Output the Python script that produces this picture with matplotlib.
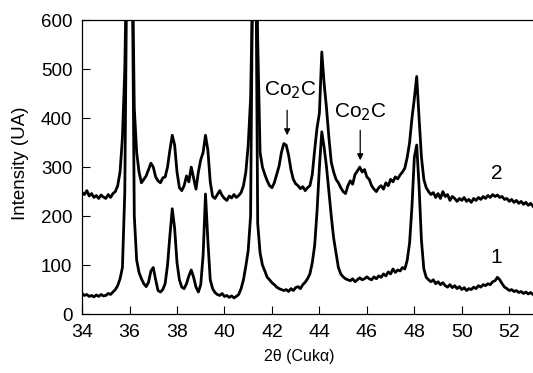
import numpy as np
import matplotlib
matplotlib.use("Agg")
import matplotlib.pyplot as plt

plt.rcParams['font.family'] = ['Liberation Sans', 'DejaVu Sans']

# 2-theta grid (deg), 0.1 step
two_theta = np.round(np.arange(34.0, 53.05, 0.1), 1)

# pattern 2 (upper)
intensity_2 = [
    248, 244, 252, 241, 246, 238, 242, 236, 243, 239,
    236, 244, 238, 246, 250, 262, 290, 360, 500, 800,
    1000, 800, 420, 330, 290, 268, 275, 282, 295, 308,
    300, 280, 272, 268, 278, 280, 300, 335, 365, 345,
    290, 258, 252, 262, 282, 270, 300, 278, 255, 290,
    315, 330, 365, 335, 270, 240, 236, 244, 252, 242,
    236, 232, 241, 237, 244, 238, 242, 248, 262, 290,
    345, 440, 700, 900, 560, 330, 300, 285, 272, 262,
    258, 268, 285, 302, 330, 348, 345, 325, 295, 275,
    266, 262, 256, 260, 252, 258, 262, 285, 335, 380,
    410, 535, 470, 420, 360, 310, 290, 275, 268, 258,
    250, 246, 262, 272, 265, 285, 292, 300, 290, 295,
    280, 275, 262, 255, 250, 258, 262, 255, 268, 262,
    275, 270, 280, 276, 284, 290, 298, 320, 350, 400,
    440, 485, 400, 320, 275, 258, 250, 244, 248, 238,
    246, 236, 250, 240, 244, 232, 240, 236, 230, 236,
    232, 238, 230, 234, 228, 236, 232, 238, 234, 240,
    236, 242, 238, 244, 240, 243, 238, 240, 234, 236,
    230, 234, 228, 232, 226, 230, 224, 228, 222, 226,
    220,
]

# pattern 1 (lower)
intensity_1 = [
    42, 38, 40, 36, 38, 35, 39, 36, 40, 37,
    38, 42, 40, 45, 50, 58, 72, 95, 250, 800,
    1000, 800, 200, 110, 85, 72, 62, 56, 65, 88,
    95, 70, 48, 45, 50, 62, 100, 160, 215, 175,
    105, 70, 55, 52, 62, 78, 90, 75, 55, 45,
    60, 120, 245, 150, 70, 52, 44, 40, 38, 42,
    36, 38, 34, 37, 33, 36, 40, 52, 70, 98,
    130, 200, 800, 900, 185, 125, 100, 88, 75, 70,
    64, 60, 55, 52, 50, 48, 50, 46, 52, 48,
    54, 56, 52, 60, 65, 72, 82, 105, 140, 210,
    300, 372, 340, 300, 250, 200, 155, 125, 95, 82,
    76, 72, 70, 68, 72, 66, 70, 74, 70, 72,
    76, 72, 70, 76, 72, 78, 75, 82, 78, 86,
    82, 92, 85, 90, 88, 95, 92, 110, 145, 220,
    320, 345, 260, 150, 92, 75, 70, 66, 70, 62,
    66, 60, 64, 58, 55, 60, 54, 58, 52, 56,
    50, 54, 48, 52, 50, 55, 52, 58, 55, 60,
    58, 62, 60, 66, 68, 75, 70, 62, 55, 52,
    48, 50, 46, 48, 44, 46, 42, 45, 41, 44,
    40,
]

# Co2C peak markers: arrow x, arrow start, arrow tip, label position
co2c_x = [42.64, 45.72]
co2c_start = [416, 375]
co2c_tip = [365, 314]
co2c_label_x = [42.78, 45.75]
co2c_label_y = [456, 413]

fig = plt.figure(figsize=(5.33, 3.73), dpi=100)
ax = fig.add_axes([0.154, 0.158, 0.846, 0.788])

ax.plot(two_theta, intensity_2, color="black", lw=2.0)
ax.plot(two_theta, intensity_1, color="black", lw=2.0)

ax.set_xlim(34, 53)
ax.set_ylim(0, 600)
ax.set_xticks(np.arange(34, 53, 2))
ax.set_yticks(np.arange(0, 601, 100))
ax.tick_params(direction="in", length=5.5, width=0.8, pad=7,
               top=False, right=False)
ax.tick_params(axis="x", labelsize=14)
ax.tick_params(axis="y", labelsize=13.5)
ax.spines["right"].set_visible(False)
for s in ["left", "bottom", "top"]:
    ax.spines[s].set_linewidth(0.9)

fig.text(299 / 533, 1 - 357 / 373, "2θ (Cukα)", fontsize=11.5,
         ha="center", va="center")
fig.text(21 / 533, 1 - 163 / 373, "Intensity (UA)", fontsize=13.5,
         rotation=90, ha="center", va="center")

for i in range(len(co2c_x)):
    ax.annotate("", xy=(co2c_x[i], co2c_tip[i]),
                xytext=(co2c_x[i], co2c_start[i]),
                arrowprops=dict(arrowstyle="-|>", color="black", lw=0.9,
                                mutation_scale=9, shrinkA=0, shrinkB=0))
    ax.text(co2c_label_x[i], co2c_label_y[i], "Co$_2$C", fontsize=15,
            ha="center", va="center")

ax.text(51.48, 286, "2", ha="center", va="center", fontsize=15)
ax.text(51.44, 116, "1", ha="center", va="center", fontsize=15)

fig.savefig("out.png", dpi=100)
